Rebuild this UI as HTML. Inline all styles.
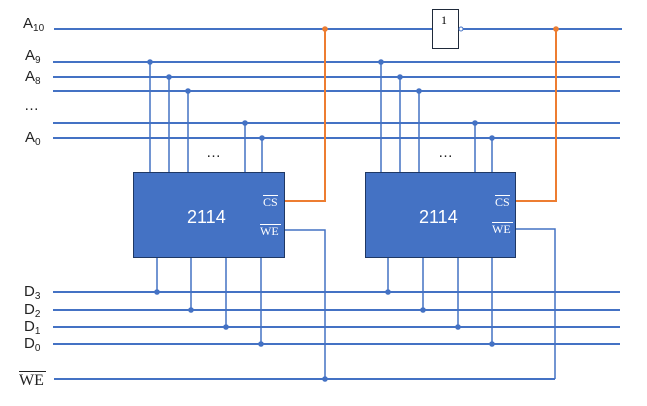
<!DOCTYPE html>
<html><head><style>body{margin:0;background:#fff}svg{display:block}text{font-family:"Liberation Sans",sans-serif}text.s{font-family:"Liberation Serif",serif}</style></head><body>
<svg width="647" height="406" viewBox="0 0 647 406" xmlns="http://www.w3.org/2000/svg">
<g stroke="#4472c4" stroke-width="2" fill="none">
<line x1="54" y1="29" x2="622" y2="29"/>
<line x1="53" y1="62" x2="620" y2="62"/>
<line x1="53" y1="77" x2="620" y2="77"/>
<line x1="53" y1="91" x2="620" y2="91"/>
<line x1="53" y1="123" x2="620" y2="123"/>
<line x1="53" y1="138" x2="620" y2="138"/>
<line x1="53" y1="292" x2="620" y2="292"/>
<line x1="53" y1="310" x2="620" y2="310"/>
<line x1="53" y1="327" x2="620" y2="327"/>
<line x1="53" y1="344" x2="620" y2="344"/>
<line x1="54" y1="379" x2="555" y2="379"/>
</g>
<g stroke="#4472c4" stroke-width="1.5" fill="none">
<path d="M150 62V173M169 77V173M188 91V173M245 123V173M262 138V173"/>
<path d="M381 62V173M400 77V173M419 91V173M475 123V173M492 138V173"/>
<path d="M157 257V292M191 257V310M226 257V327M261 257V344"/>
<path d="M388 257V292M423 257V310M458 257V327M492 257V344"/>
<path d="M284 230H325V379M515 229H555V379"/>
</g>
<g stroke="#ed7d31" stroke-width="2" fill="none">
<path d="M284 201H325V29M515 201H556V29"/>
</g>
<g fill="#4472c4">
<circle cx="150" cy="62" r="2.8"/><circle cx="169" cy="77" r="2.8"/><circle cx="188" cy="91" r="2.8"/><circle cx="245" cy="123" r="2.8"/><circle cx="262" cy="138" r="2.8"/>
<circle cx="381" cy="62" r="2.8"/><circle cx="400" cy="77" r="2.8"/><circle cx="419" cy="91" r="2.8"/><circle cx="475" cy="123" r="2.8"/><circle cx="492" cy="138" r="2.8"/>
<circle cx="157" cy="292" r="2.8"/><circle cx="191" cy="310" r="2.8"/><circle cx="226" cy="327" r="2.8"/><circle cx="261" cy="344" r="2.8"/>
<circle cx="388" cy="292" r="2.8"/><circle cx="423" cy="310" r="2.8"/><circle cx="458" cy="327" r="2.8"/><circle cx="492" cy="344" r="2.8"/>
<circle cx="325" cy="379" r="2.8"/>
</g>
<circle cx="325" cy="29" r="2.8" fill="#ed7d31"/><circle cx="556" cy="29" r="2.8" fill="#ed7d31"/>
<rect x="133.5" y="172.5" width="151" height="85" fill="#4472c4" stroke="#1f3864" stroke-width="1"/>
<rect x="365.5" y="172.5" width="150" height="85" fill="#4472c4" stroke="#1f3864" stroke-width="1"/>
<rect x="432.5" y="9.5" width="26" height="39" fill="#fff" stroke="#1f2a3a" stroke-width="1"/>
<circle cx="461" cy="29" r="2" fill="#fff" stroke="#4472c4" stroke-width="1"/>
<text class="s" x="441" y="24" font-size="12">1</text>
<g fill="#fff" font-size="18"><text x="187" y="223">2114</text><text x="419" y="223">2114</text></g>
<g fill="#fff" font-size="12">
<text class="s" x="263" y="206">CS</text><text class="s" x="260" y="235">WE</text>
<text class="s" x="495" y="206">CS</text><text class="s" x="492" y="233">WE</text>
</g>
<g stroke="#fff" stroke-width="1"><path d="M263 195.5H278M260 224.5H281M495 195.5H510M492 222.5H513"/></g>
<g fill="#222" font-size="15">
<text x="23" y="28">A<tspan font-size="10" dy="3">10</tspan></text>
<text x="25" y="60">A<tspan font-size="10" dy="3">9</tspan></text>
<text x="25" y="81">A<tspan font-size="10" dy="3">8</tspan></text>
<text x="24" y="110">…</text>
<text x="25" y="142">A<tspan font-size="10" dy="3">0</tspan></text>
<text x="24" y="296">D<tspan font-size="10" dy="3">3</tspan></text>
<text x="24" y="314">D<tspan font-size="10" dy="3">2</tspan></text>
<text x="24" y="331">D<tspan font-size="10" dy="3">1</tspan></text>
<text x="24" y="348">D<tspan font-size="10" dy="3">0</tspan></text>
<text x="206" y="157">…</text><text x="438" y="157">…</text>
</g>
<text class="s" x="19" y="385" font-size="16" fill="#222">WE</text>
<line x1="19" y1="371.5" x2="46" y2="371.5" stroke="#222" stroke-width="1"/>
</svg>
</body></html>
